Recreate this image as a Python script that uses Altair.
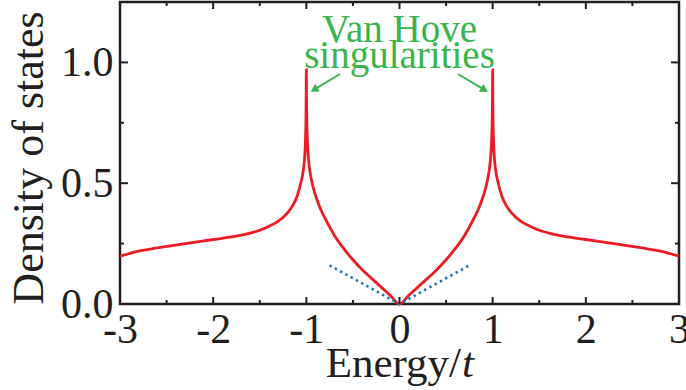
import altair as alt
import pandas as pd

# ---- data ----
energy = [-3.0, -2.8, -2.6, -2.3, -2.0, -1.7, -1.5, -1.4, -1.3, -1.2, -1.15, -1.1,
          -1.06, -1.03, -1.015, -1.01, -1.005, -1.002, -1.0, -0.998, -0.995, -0.99,
          -0.985, -0.97, -0.94, -0.9, -0.85, -0.8, -0.7, -0.6, -0.5, -0.4, -0.3,
          -0.2, -0.1, 0.0,
          0.1, 0.2, 0.3, 0.4, 0.5, 0.6, 0.7, 0.8, 0.85, 0.9, 0.94, 0.97, 0.985,
          0.99, 0.995, 0.998, 1.0, 1.002, 1.005, 1.01, 1.015, 1.03, 1.06, 1.1,
          1.15, 1.2, 1.3, 1.4, 1.5, 1.7, 2.0, 2.3, 2.6, 2.8, 3.0]
dos = [0.198, 0.219, 0.232, 0.250, 0.267, 0.285, 0.305, 0.322, 0.343, 0.378, 0.405, 0.445,
       0.500, 0.560, 0.625, 0.670, 0.740, 0.840, 0.970, 0.850, 0.760, 0.690,
       0.645, 0.575, 0.505, 0.448, 0.395, 0.355, 0.285, 0.230, 0.183, 0.142, 0.106,
       0.071, 0.036, 0.0,
       0.036, 0.071, 0.106, 0.142, 0.183, 0.230, 0.285, 0.355, 0.395, 0.448, 0.505, 0.575, 0.645,
       0.690, 0.760, 0.850, 0.970, 0.840, 0.740, 0.670, 0.625, 0.560, 0.500, 0.445,
       0.405, 0.378, 0.343, 0.322, 0.305, 0.285, 0.267, 0.250, 0.232, 0.219, 0.198]

dirac_energy = [-0.75, 0.0, 0.75]
dirac_dos = [0.16, 0.0, 0.16]

x_major = [-3, -2, -1, 0, 1, 2, 3]
x_minor = [-2.5, -1.5, -0.5, 0.5, 1.5, 2.5]
y_major = [0.0, 0.5, 1.0]
y_minor = [0.25, 0.75]

note_text = ["Van Hove", "singularities"]
note_x = [0.0, 0.0]
note_y = [1.085, 0.978]

arrow_x = [-0.639, 0.628]
arrow_y = [0.952, 0.952]
arrow_x2 = [-0.917, 0.912]
arrow_y2 = [0.887, 0.886]
arrow_angle = [239, 121]

x_title = ["Energy/", "t"]
y_title = ["Density of states"]

# ---- styling ----
W, H = 559, 302
FONT = "Liberation Serif"
INK = "#231f20"
RED = "#ec1c24"
BLUE = "#1b75bc"
GREEN = "#39b54a"

xs = alt.Scale(domain=[-3, 3], nice=False, zero=False)
ys = alt.Scale(domain=[0, 1.25], nice=False, zero=False)

curve_df = pd.DataFrame({"E": energy, "D": dos})
dirac_df = pd.DataFrame({"E": dirac_energy, "D": dirac_dos})

x_axis = alt.Axis(values=x_major, ticks=False, domain=False, grid=False, title=None,
                  labelFont=FONT, labelFontSize=42, labelColor=INK, labelPadding=5,
                  labelFlush=False, labelOverlap=False, labelBound=False,
                  labelExpr="datum.value < 0 ? '-' + format(-datum.value, 'd') : format(datum.value, 'd')")
y_axis = alt.Axis(values=y_major, ticks=False, domain=False, grid=False, title=None,
                  format=".1f", labelFont=FONT, labelFontSize=42, labelColor=INK,
                  labelPadding=7, labelFlush=False, labelOverlap=False, labelBound=False)


def X(field):
    return alt.X(field, scale=xs, axis=x_axis)


def Y(field):
    return alt.Y(field, scale=ys, axis=y_axis)


curve = alt.Chart(curve_df).transform_window(index="row_number()").mark_line(
    color=RED, strokeWidth=2.8, interpolate="monotone").encode(
    x=X("E:Q"), y=Y("D:Q"), order="index:Q")

dirac = alt.Chart(dirac_df).mark_line(color=BLUE, strokeWidth=2.6, strokeDash=[2.4, 3.6]).encode(
    x=X("E:Q"), y=Y("D:Q"))

xmaj_df = pd.DataFrame({"v": x_major})
xmin_df = pd.DataFrame({"v": x_minor})
ymaj_df = pd.DataFrame({"v": y_major})
ymin_df = pd.DataFrame({"v": y_minor})


def xticks(df, length):
    bottom = alt.Chart(df).mark_rule(color=INK, strokeWidth=2).encode(
        x=X("v:Q"), y=alt.value(H), y2=alt.value(H - length))
    top = alt.Chart(df).mark_rule(color=INK, strokeWidth=2).encode(
        x=X("v:Q"), y=alt.value(0), y2=alt.value(length))
    return [bottom, top]


def yticks(df, length):
    left = alt.Chart(df).mark_rule(color=INK, strokeWidth=2).encode(
        y=Y("v:Q"), x=alt.value(0), x2=alt.value(length))
    right = alt.Chart(df).mark_rule(color=INK, strokeWidth=2).encode(
        y=Y("v:Q"), x=alt.value(W), x2=alt.value(W - length))
    return [left, right]


ticks = xticks(xmaj_df, 7) + xticks(xmin_df, 4) + yticks(ymaj_df, 8) + yticks(ymin_df, 4)

note_df = pd.DataFrame({"t": note_text, "x": note_x, "y": note_y})
notes = alt.Chart(note_df).mark_text(font=FONT, fontSize=39, color=GREEN, align="center",
                                     baseline="alphabetic").encode(
    x=X("x:Q"), y=Y("y:Q"), text="t:N")

arrow_df = pd.DataFrame({"x": arrow_x, "y": arrow_y, "x2": arrow_x2, "y2": arrow_y2,
                         "a": arrow_angle})
shafts = alt.Chart(arrow_df).mark_rule(color=GREEN, strokeWidth=2).encode(
    x=X("x:Q"), y=Y("y:Q"), x2="x2:Q", y2="y2:Q")
heads = alt.Chart(arrow_df).mark_point(shape="triangle-up", filled=True, color=GREEN,
                                       size=80, opacity=1).encode(
    x=X("x2:Q"), y=Y("y2:Q"), angle=alt.Angle("a:Q", scale=None))

xt1 = alt.Chart(pd.DataFrame({"t": [x_title[0]]})).mark_text(
    font=FONT, fontSize=43, color=INK, align="right", baseline="alphabetic").encode(
    x=alt.value(341), y=alt.value(374.5), text="t:N")
xt2 = alt.Chart(pd.DataFrame({"t": [x_title[1]]})).mark_text(
    font=FONT, fontSize=43, fontStyle="italic", color=INK, align="left",
    baseline="alphabetic").encode(x=alt.value(342), y=alt.value(374.5), text="t:N")
yt = alt.Chart(pd.DataFrame({"t": y_title})).mark_text(
    font=FONT, fontSize=44, color=INK, align="center", baseline="alphabetic",
    angle=270).encode(x=alt.value(-77), y=alt.value(156), text="t:N")

chart = alt.layer(curve, dirac, *ticks, shafts, heads, notes, xt1, xt2, yt).properties(
    width=W, height=H,
    autosize=alt.AutoSizeParams(type="none"),
    padding={"left": 120, "top": 2, "right": 7, "bottom": 86},
).configure_view(stroke=INK, strokeWidth=2.5)

chart.save("out.html", embed_options={"renderer": "svg", "actions": False})
